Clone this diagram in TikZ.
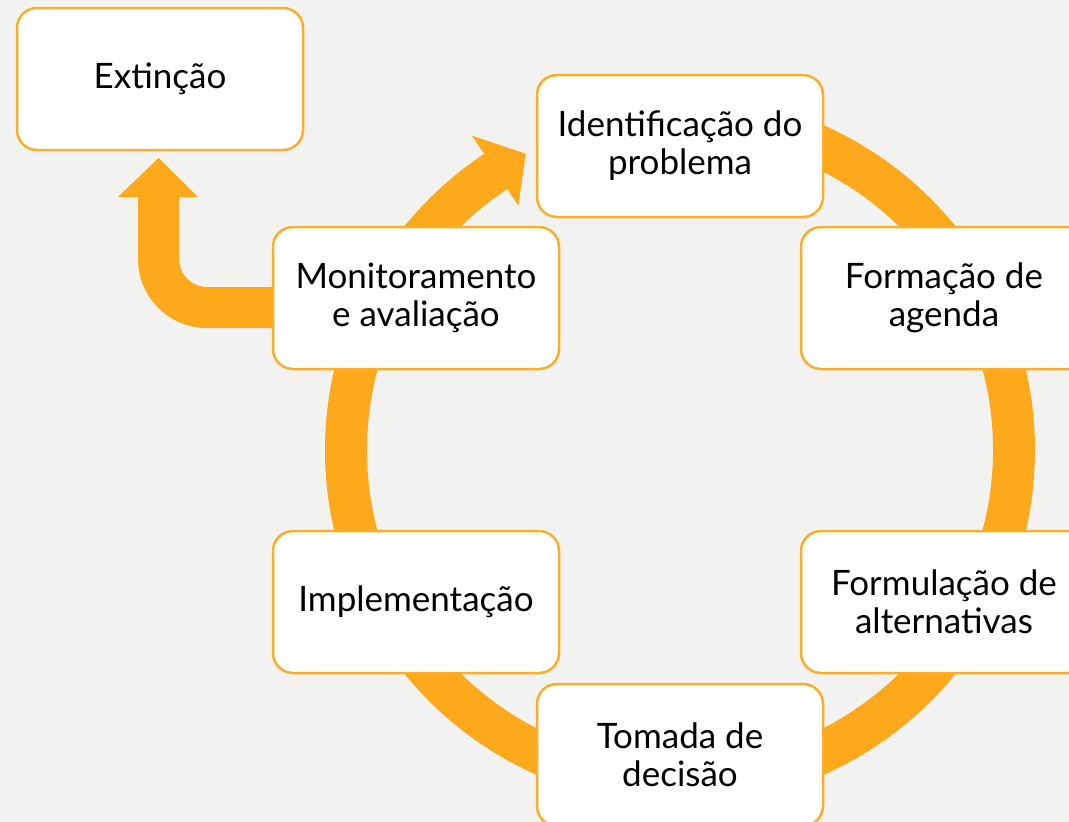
\documentclass[tikz,border=0pt]{standalone}
\usepackage{fontspec}
\setmainfont{Lato}
\definecolor{bg}{HTML}{F2F2F1}
\definecolor{arr}{HTML}{FDA91B}
\definecolor{edge}{HTML}{FBAE2A}
\begin{document}
\begin{tikzpicture}[x=1pt,y=-1pt,
  stage/.style={draw=edge, line width=2.5pt, fill=white, rounded corners=20pt,
    minimum width=286pt, minimum height=142pt, align=center, inner sep=0pt,
    font=\fontsize{35}{38}\selectfont, text=black},
  flow/.style={fill=arr, draw=none}]
\fill[bg] (0,0) rectangle (1069,822);
\clip (0,0) rectangle (1069,822);
% cycle ring with arrowhead
\begin{scope}[shift={(680,450)}, x=1pt, y=1pt]
  \fill[flow] (90:355) arc[start angle=90, end angle=-236.5, radius=355]
    -- (-236.5:377) -- (-242.5:334) -- (-236.5:293) -- (-236.5:313)
    arc[start angle=-236.5, end angle=90, radius=313] -- cycle;
\end{scope}
% bent arrow to Extinção
\fill[flow] (290,287) -- (207,287) arc[start angle=90, end angle=180, radius=28]
  -- (179,197) -- (198,197) -- (158.5,158) -- (118,197) -- (138,197) -- (138,259)
  arc[start angle=180, end angle=90, radius=69] -- (290,328) -- cycle;
% stages
\node[stage] (ext) at (160,79) {Extinção};
\node[stage] (ident) at (680,146) {Identificação do\\problema};
\node[stage] (agenda) at (944,298) {Formação de\\agenda};
\node[stage] (alt) at (944,602) {Formulação de\\alternativas};
\node[stage] (dec) at (680,755) {Tomada de\\decisão};
\node[stage] (impl) at (416,602) {Implementação};
\node[stage] (mon) at (416,298) {Monitoramento\\e avaliação};
\end{tikzpicture}
\end{document}
